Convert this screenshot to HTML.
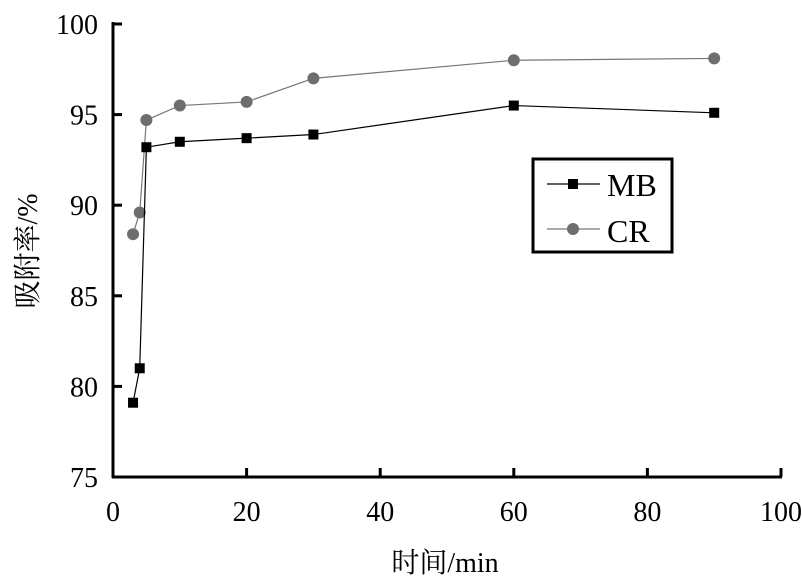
<!DOCTYPE html>
<html><head><meta charset="utf-8"><style>
body{margin:0;background:#fff}
svg{display:block;font-family:"Liberation Serif","Noto Serif CJK SC",serif}
</style></head><body>
<svg id="c" width="802" height="583">
<g id="axes"></g><g id="series"></g>
<g>
<rect x="533" y="159" width="139" height="93" fill="#fff" stroke="#000" stroke-width="3"/>
<line x1="547" y1="184" x2="600" y2="184" stroke="#000" stroke-width="1.2"/>
<rect x="568" y="179" width="10" height="10" fill="#000"/>
<text x="607" y="196" font-size="32">MB</text>
<line x1="547" y1="229" x2="600" y2="229" stroke="#777" stroke-width="1.2"/>
<circle cx="573" cy="229" r="6" fill="#6e6e6e"/>
<text x="607" y="242" font-size="32">CR</text>
</g>
<text x="445" y="572" font-size="28" text-anchor="middle">时间/min</text>
<text transform="translate(37,251) rotate(-90)" font-size="28" text-anchor="middle">吸附率/%</text>
</svg>
<script>
const times=[3,4,5,10,20,30,60,90];
const mbValues=[79.1,81.0,93.2,93.5,93.7,93.9,95.5,95.1];
const crValues=[88.4,89.6,94.7,95.5,95.7,97.0,98.0,98.1];
const xTicks=[0,20,40,60,80,100];
const yTicks=[75,80,85,90,95,100];
const X=v=>113+v*6.68;
const Y=v=>477-(v-75)*18.12;
const NS="http://www.w3.org/2000/svg";
function mk(t,a,p){const e=document.createElementNS(NS,t);for(const k in a)e.setAttribute(k,a[k]);p.appendChild(e);return e;}
const ax=document.getElementById('axes');
let l=mk('line',{x1:113,y1:22,x2:113,y2:478,stroke:'#000','stroke-width':3},ax);


l=mk('line',{x1:112,y1:477,x2:782,y2:477,stroke:'#000','stroke-width':3},ax);


yTicks.forEach(v=>{
 mk('line',{x1:113,y1:Y(v),x2:122,y2:Y(v),stroke:'#000','stroke-width':3},ax);
 const t=mk('text',{x:98,y:Y(v)+10,'font-size':28,'text-anchor':'end'},ax);t.textContent=v;
 
 
});
xTicks.forEach(v=>{
 mk('line',{x1:X(v),y1:477,x2:X(v),y2:468,stroke:'#000','stroke-width':3},ax);
 const t=mk('text',{x:X(v),y:521,'font-size':28,'text-anchor':'middle'},ax);t.textContent=v;
 
 
});
const sg=document.getElementById('series');
function series(vals,color,name,sq){
 const p=mk('polyline',{points:times.map((t,i)=>X(t)+','+Y(vals[i])).join(' '),fill:'none',stroke:color,'stroke-width':1.2},sg);
 
 
 times.forEach((t,i)=>{
  let m;
  if(sq)m=mk('rect',{x:X(t)-5,y:Y(vals[i])-5,width:10,height:10,fill:'#000'},sg);
  else m=mk('circle',{cx:X(t),cy:Y(vals[i]),r:6,fill:'#6e6e6e'},sg);
  
  
 });
}
series(crValues,'#777','cr',false);
series(mbValues,'#000','mb',true);
</script>
</body></html>
